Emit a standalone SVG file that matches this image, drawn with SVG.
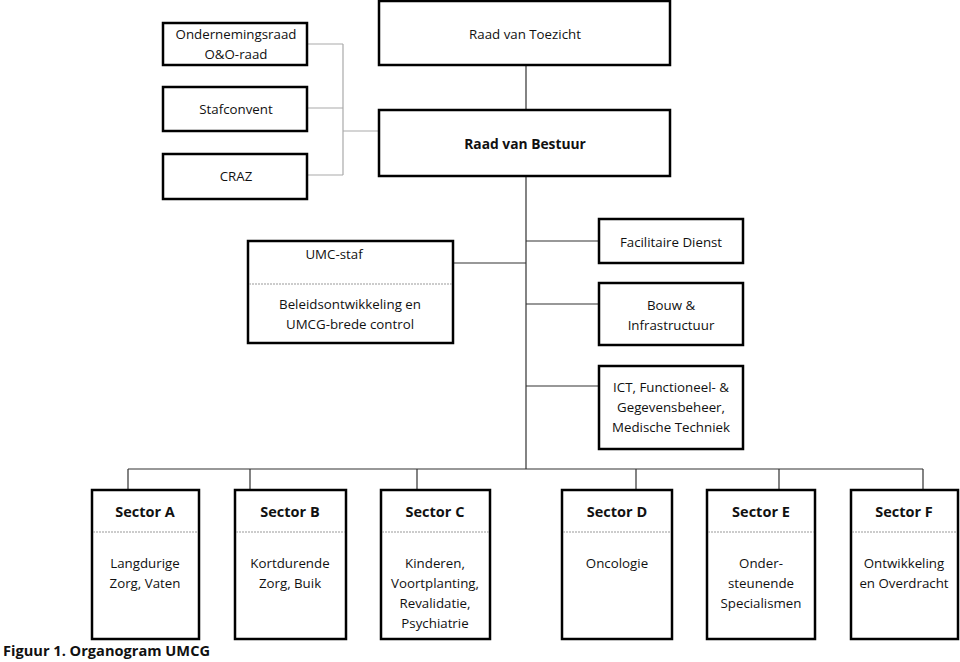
<svg xmlns="http://www.w3.org/2000/svg" width="960" height="662" viewBox="0 0 960 662">
<style>
.box{fill:#fff;stroke:#000;stroke-width:2.5}
.sep{stroke:#999;stroke-width:1;stroke-dasharray:2 1}
.t{font-family:"Open Sans","Liberation Sans",sans-serif;font-size:13.3px;fill:#111;text-anchor:middle}
.b{font-weight:bold;font-size:14.5px}
.c{fill:none;stroke:#333;stroke-width:1.2}
.g{fill:none;stroke:#aaa;stroke-width:1.2}
</style>
<rect width="960" height="662" fill="#fff"/>
<g id="connectors">
<path class="g" d="M307 44H343M307 108H343M307 175H343M343 44V175M343 131H378"/>
<path class="c" d="M526 65V110M526 176V469M526 241H599M526 304H599M526 386H599M453 263H526M128 469H923M128 469V490M250 469V490M417 469V490M636 469V490M779 469V490M923 469V490"/>
</g>
<g id="ondernemingsraad"><rect class="box" x="163" y="23" width="144" height="42"/><text class="t" x="236" y="39">Ondernemingsraad</text><text class="t" x="236" y="59">O&amp;O-raad</text></g>
<g id="stafconvent"><rect class="box" x="163" y="87" width="144" height="44"/><text class="t" x="236" y="114">Stafconvent</text></g>
<g id="craz"><rect class="box" x="163" y="154" width="144" height="45"/><text class="t" x="236" y="181">CRAZ</text></g>
<g id="rvt"><rect class="box" x="379" y="1" width="291" height="64"/><text class="t" x="525" y="39">Raad van Toezicht</text></g>
<g id="rvb"><rect class="box" x="379" y="110" width="291" height="66"/><text class="t b" x="525" y="149" style="font-size:13.8px">Raad van Bestuur</text></g>
<g id="umcstaf"><rect class="box" x="248" y="241" width="205" height="102"/><line class="sep" x1="249" y1="284" x2="452" y2="284"/><text class="t" x="334" y="259">UMC-staf</text><text class="t" x="350" y="309">Beleidsontwikkeling en</text><text class="t" x="350" y="329">UMCG-brede control</text></g>
<g id="facilitaire"><rect class="box" x="599" y="219" width="144" height="44"/><text class="t" x="671" y="247">Facilitaire Dienst</text></g>
<g id="bouw"><rect class="box" x="599" y="283" width="144" height="62"/><text class="t" x="671" y="310">Bouw &amp;</text><text class="t" x="671" y="330">Infrastructuur</text></g>
<g id="ict"><rect class="box" x="599" y="366" width="144" height="83"/><text class="t" x="671" y="392">ICT, Functioneel- &amp;</text><text class="t" x="671" y="412">Gegevensbeheer,</text><text class="t" x="671" y="432">Medische Techniek</text></g>
<g id="sectorA"><rect class="box" x="92" y="490" width="107" height="149"/><line class="sep" x1="93" y1="532" x2="198" y2="532"/><text class="t b" x="145" y="517">Sector A</text><text class="t" x="145" y="568">Langdurige</text><text class="t" x="145" y="588">Zorg, Vaten</text></g>
<g id="sectorB"><rect class="box" x="235" y="490" width="111" height="149"/><line class="sep" x1="236" y1="532" x2="345" y2="532"/><text class="t b" x="290" y="517">Sector B</text><text class="t" x="290" y="568">Kortdurende</text><text class="t" x="290" y="588">Zorg, Buik</text></g>
<g id="sectorC"><rect class="box" x="381" y="490" width="109" height="149"/><line class="sep" x1="382" y1="532" x2="489" y2="532"/><text class="t b" x="435" y="517">Sector C</text><text class="t" x="435" y="568">Kinderen,</text><text class="t" x="435" y="588">Voortplanting,</text><text class="t" x="435" y="608">Revalidatie,</text><text class="t" x="435" y="628">Psychiatrie</text></g>
<g id="sectorD"><rect class="box" x="562" y="490" width="110" height="149"/><line class="sep" x1="563" y1="532" x2="671" y2="532"/><text class="t b" x="617" y="517">Sector D</text><text class="t" x="617" y="568">Oncologie</text></g>
<g id="sectorE"><rect class="box" x="707" y="490" width="108" height="149"/><line class="sep" x1="708" y1="532" x2="814" y2="532"/><text class="t b" x="761" y="517">Sector E</text><text class="t" x="761" y="568">Onder-</text><text class="t" x="761" y="588">steunende</text><text class="t" x="761" y="608">Specialismen</text></g>
<g id="sectorF"><rect class="box" x="851" y="490" width="107" height="149"/><line class="sep" x1="852" y1="532" x2="957" y2="532"/><text class="t b" x="904" y="517">Sector F</text><text class="t" x="904" y="568">Ontwikkeling</text><text class="t" x="904" y="588">en Overdracht</text></g>
<text class="t b" x="3" y="656" style="text-anchor:start;font-size:14.6px">Figuur 1. Organogram UMCG</text>
</svg>
